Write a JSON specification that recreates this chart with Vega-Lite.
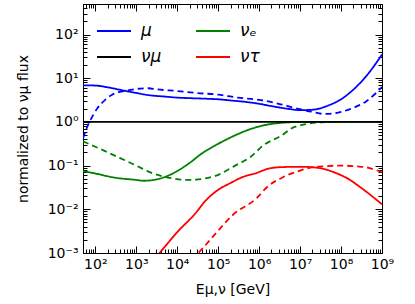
{
  "$schema": "https://vega.github.io/schema/vega-lite/v6.json",
  "width": 299,
  "height": 249,
  "autosize": {"type": "none"},
  "padding": {"left": 83, "top": 4, "right": 33, "bottom": 51},
  "background": "white",
  "config": {
    "font": "DejaVu Sans",
    "view": {"stroke": null},
    "axis": {
      "grid": false,
      "domainColor": "black",
      "domainWidth": 1,
      "tickColor": "black",
      "tickWidth": 1,
      "labelColor": "black",
      "labelFont": "DejaVu Sans",
      "labelFontSize": 14,
      "labelOverlap": false,
      "labelFlush": false,
      "labelBound": false,
      "titleFont": "DejaVu Sans",
      "titleFontSize": 14,
      "titleFontWeight": "normal",
      "titleColor": "black"
    }
  },
  "data": {
    "values": [
      {"E": 50, "v": 6.9, "s": "μ", "st": "solid"},
      {"E": 100, "v": 6.8, "s": "μ", "st": "solid"},
      {"E": 200, "v": 6.2, "s": "μ", "st": "solid"},
      {"E": 500, "v": 5.2, "s": "μ", "st": "solid"},
      {"E": 1000, "v": 4.6, "s": "μ", "st": "solid"},
      {"E": 2000, "v": 4.1, "s": "μ", "st": "solid"},
      {"E": 5000, "v": 3.8, "s": "μ", "st": "solid"},
      {"E": 10000, "v": 3.6, "s": "μ", "st": "solid"},
      {"E": 20000, "v": 3.5, "s": "μ", "st": "solid"},
      {"E": 50000, "v": 3.4, "s": "μ", "st": "solid"},
      {"E": 100000, "v": 3.3, "s": "μ", "st": "solid"},
      {"E": 200000, "v": 3.1, "s": "μ", "st": "solid"},
      {"E": 500000, "v": 2.85, "s": "μ", "st": "solid"},
      {"E": 1000000, "v": 2.6, "s": "μ", "st": "solid"},
      {"E": 2000000, "v": 2.3, "s": "μ", "st": "solid"},
      {"E": 5000000, "v": 2.0, "s": "μ", "st": "solid"},
      {"E": 10000000, "v": 1.86, "s": "μ", "st": "solid"},
      {"E": 20000000, "v": 1.9, "s": "μ", "st": "solid"},
      {"E": 50000000, "v": 2.4, "s": "μ", "st": "solid"},
      {"E": 100000000, "v": 3.3, "s": "μ", "st": "solid"},
      {"E": 200000000, "v": 5.5, "s": "μ", "st": "solid"},
      {"E": 500000000, "v": 14, "s": "μ", "st": "solid"},
      {"E": 1000000000, "v": 35, "s": "μ", "st": "solid"},

      {"E": 50, "v": 0.42, "s": "μ", "st": "dashed"},
      {"E": 58, "v": 0.63, "s": "μ", "st": "dashed"},
      {"E": 76, "v": 1.1, "s": "μ", "st": "dashed"},
      {"E": 110, "v": 2.0, "s": "μ", "st": "dashed"},
      {"E": 174, "v": 3.2, "s": "μ", "st": "dashed"},
      {"E": 257, "v": 4.2, "s": "μ", "st": "dashed"},
      {"E": 372, "v": 4.8, "s": "μ", "st": "dashed"},
      {"E": 600, "v": 5.2, "s": "μ", "st": "dashed"},
      {"E": 1000, "v": 5.7, "s": "μ", "st": "dashed"},
      {"E": 2000, "v": 5.9, "s": "μ", "st": "dashed"},
      {"E": 3000, "v": 5.6, "s": "μ", "st": "dashed"},
      {"E": 10000, "v": 5.1, "s": "μ", "st": "dashed"},
      {"E": 30000, "v": 4.6, "s": "μ", "st": "dashed"},
      {"E": 100000, "v": 4.2, "s": "μ", "st": "dashed"},
      {"E": 300000, "v": 3.6, "s": "μ", "st": "dashed"},
      {"E": 1000000, "v": 3.2, "s": "μ", "st": "dashed"},
      {"E": 3000000, "v": 2.6, "s": "μ", "st": "dashed"},
      {"E": 10000000, "v": 1.95, "s": "μ", "st": "dashed"},
      {"E": 20000000, "v": 1.7, "s": "μ", "st": "dashed"},
      {"E": 40000000, "v": 1.52, "s": "μ", "st": "dashed"},
      {"E": 100000000, "v": 1.7, "s": "μ", "st": "dashed"},
      {"E": 200000000, "v": 2.1, "s": "μ", "st": "dashed"},
      {"E": 400000000, "v": 2.9, "s": "μ", "st": "dashed"},
      {"E": 1000000000, "v": 6.3, "s": "μ", "st": "dashed"},

      {"E": 50, "v": 0.075, "s": "νₑ", "st": "solid"},
      {"E": 100, "v": 0.066, "s": "νₑ", "st": "solid"},
      {"E": 300, "v": 0.053, "s": "νₑ", "st": "solid"},
      {"E": 1000, "v": 0.047, "s": "νₑ", "st": "solid"},
      {"E": 1500, "v": 0.045, "s": "νₑ", "st": "solid"},
      {"E": 3000, "v": 0.048, "s": "νₑ", "st": "solid"},
      {"E": 5000, "v": 0.055, "s": "νₑ", "st": "solid"},
      {"E": 10000, "v": 0.075, "s": "νₑ", "st": "solid"},
      {"E": 20000, "v": 0.115, "s": "νₑ", "st": "solid"},
      {"E": 40000, "v": 0.19, "s": "νₑ", "st": "solid"},
      {"E": 85000, "v": 0.29, "s": "νₑ", "st": "solid"},
      {"E": 200000, "v": 0.44, "s": "νₑ", "st": "solid"},
      {"E": 600000, "v": 0.68, "s": "νₑ", "st": "solid"},
      {"E": 1500000, "v": 0.86, "s": "νₑ", "st": "solid"},
      {"E": 3900000, "v": 0.96, "s": "νₑ", "st": "solid"},
      {"E": 10000000, "v": 0.995, "s": "νₑ", "st": "solid"},
      {"E": 100000000, "v": 1.0, "s": "νₑ", "st": "solid"},
      {"E": 1000000000, "v": 1.0, "s": "νₑ", "st": "solid"},

      {"E": 50, "v": 0.36, "s": "νₑ", "st": "dashed"},
      {"E": 100, "v": 0.27, "s": "νₑ", "st": "dashed"},
      {"E": 340, "v": 0.16, "s": "νₑ", "st": "dashed"},
      {"E": 1000, "v": 0.1, "s": "νₑ", "st": "dashed"},
      {"E": 2200, "v": 0.07, "s": "νₑ", "st": "dashed"},
      {"E": 5600, "v": 0.054, "s": "νₑ", "st": "dashed"},
      {"E": 20000, "v": 0.047, "s": "νₑ", "st": "dashed"},
      {"E": 85000, "v": 0.058, "s": "νₑ", "st": "dashed"},
      {"E": 260000, "v": 0.1, "s": "νₑ", "st": "dashed"},
      {"E": 600000, "v": 0.155, "s": "νₑ", "st": "dashed"},
      {"E": 1260000, "v": 0.29, "s": "νₑ", "st": "dashed"},
      {"E": 3900000, "v": 0.52, "s": "νₑ", "st": "dashed"},
      {"E": 5800000, "v": 0.69, "s": "νₑ", "st": "dashed"},
      {"E": 15000000, "v": 0.9, "s": "νₑ", "st": "dashed"},
      {"E": 35000000, "v": 0.98, "s": "νₑ", "st": "dashed"},
      {"E": 100000000, "v": 1.0, "s": "νₑ", "st": "dashed"},
      {"E": 1000000000, "v": 1.0, "s": "νₑ", "st": "dashed"},

      {"E": 2000, "v": 0.00045, "s": "ντ", "st": "solid"},
      {"E": 3700, "v": 0.001, "s": "ντ", "st": "solid"},
      {"E": 5000, "v": 0.0014, "s": "ντ", "st": "solid"},
      {"E": 10000, "v": 0.003, "s": "ντ", "st": "solid"},
      {"E": 27500, "v": 0.008, "s": "ντ", "st": "solid"},
      {"E": 50000, "v": 0.016, "s": "ντ", "st": "solid"},
      {"E": 100000, "v": 0.028, "s": "ντ", "st": "solid"},
      {"E": 200000, "v": 0.04, "s": "ντ", "st": "solid"},
      {"E": 400000, "v": 0.055, "s": "ντ", "st": "solid"},
      {"E": 870000, "v": 0.068, "s": "ντ", "st": "solid"},
      {"E": 1600000, "v": 0.084, "s": "ντ", "st": "solid"},
      {"E": 3200000, "v": 0.092, "s": "ντ", "st": "solid"},
      {"E": 10000000, "v": 0.094, "s": "ντ", "st": "solid"},
      {"E": 25000000, "v": 0.09, "s": "ντ", "st": "solid"},
      {"E": 80000000, "v": 0.066, "s": "ντ", "st": "solid"},
      {"E": 160000000, "v": 0.048, "s": "ντ", "st": "solid"},
      {"E": 260000000, "v": 0.035, "s": "ντ", "st": "solid"},
      {"E": 500000000, "v": 0.022, "s": "ντ", "st": "solid"},
      {"E": 1000000000, "v": 0.013, "s": "ντ", "st": "solid"},

      {"E": 20000, "v": 0.0004, "s": "ντ", "st": "dashed"},
      {"E": 33000, "v": 0.001, "s": "ντ", "st": "dashed"},
      {"E": 44000, "v": 0.00135, "s": "ντ", "st": "dashed"},
      {"E": 93000, "v": 0.003, "s": "ντ", "st": "dashed"},
      {"E": 230000, "v": 0.0075, "s": "ντ", "st": "dashed"},
      {"E": 870000, "v": 0.018, "s": "ντ", "st": "dashed"},
      {"E": 1550000, "v": 0.032, "s": "ντ", "st": "dashed"},
      {"E": 3900000, "v": 0.055, "s": "ντ", "st": "dashed"},
      {"E": 10000000, "v": 0.077, "s": "ντ", "st": "dashed"},
      {"E": 17000000, "v": 0.089, "s": "ντ", "st": "dashed"},
      {"E": 40000000, "v": 0.097, "s": "ντ", "st": "dashed"},
      {"E": 100000000, "v": 0.1, "s": "ντ", "st": "dashed"},
      {"E": 250000000, "v": 0.096, "s": "ντ", "st": "dashed"},
      {"E": 500000000, "v": 0.088, "s": "ντ", "st": "dashed"},
      {"E": 1000000000, "v": 0.07, "s": "ντ", "st": "dashed"},

      {"E": 50, "v": 1, "s": "νμ", "st": "solid"},
      {"E": 1000000000, "v": 1, "s": "νμ", "st": "solid"}
    ]
  },
  "layer": [
    {
      "transform": [{"filter": "datum.s !== 'νμ'"}],
      "mark": {"type": "line", "strokeWidth": 1.8, "clip": true, "interpolate": "monotone"},
      "encoding": {
        "x": {
          "field": "E", "type": "quantitative",
          "scale": {"type": "log", "domain": [50, 1000000000], "nice": false},
          "axis": {
            "orient": "bottom",
            "values": [50,60,70,80,90,100,200,300,400,500,600,700,800,900,1000,2000,3000,4000,5000,6000,7000,8000,9000,10000,20000,30000,40000,50000,60000,70000,80000,90000,100000,200000,300000,400000,500000,600000,700000,800000,900000,1000000,2000000,3000000,4000000,5000000,6000000,7000000,8000000,9000000,10000000,20000000,30000000,40000000,50000000,60000000,70000000,80000000,90000000,100000000,200000000,300000000,400000000,500000000,600000000,700000000,800000000,900000000,1000000000],
            "labelExpr": "abs(log(datum.value)/LN10 - round(log(datum.value)/LN10)) < 0.001 ? '10' + (datum.value < 1 ? '⁻' : '') + ['⁰','¹','²','³','⁴','⁵','⁶','⁷','⁸','⁹'][abs(round(log(datum.value)/LN10))] : ''",
            "tickSize": {"condition": {"test": "abs(log(datum.value)/LN10 - round(log(datum.value)/LN10)) < 0.001", "value": -7}, "value": -4},
            "labelPadding": 11,
            "title": "Eμ,ν [GeV]",
            "titlePadding": 8
          }
        },
        "y": {
          "field": "v", "type": "quantitative",
          "scale": {"type": "log", "domain": [0.001, 500], "nice": false},
          "axis": {
            "orient": "left",
            "values": [0.001,0.002,0.003,0.004,0.005,0.006,0.007,0.008,0.009,0.01,0.02,0.03,0.04,0.05,0.06,0.07,0.08,0.09,0.1,0.2,0.3,0.4,0.5,0.6,0.7,0.8,0.9,1,2,3,4,5,6,7,8,9,10,20,30,40,50,60,70,80,90,100,200,300,400,500],
            "labelExpr": "abs(log(datum.value)/LN10 - round(log(datum.value)/LN10)) < 0.001 ? '10' + (datum.value < 1 ? '⁻' : '') + ['⁰','¹','²','³','⁴','⁵','⁶','⁷','⁸','⁹'][abs(round(log(datum.value)/LN10))] : ''",
            "tickSize": {"condition": {"test": "abs(log(datum.value)/LN10 - round(log(datum.value)/LN10)) < 0.001", "value": -7}, "value": -4},
            "labelPadding": 12,
            "title": "normalized to νμ flux",
            "titlePadding": 17
          }
        },
        "color": {
          "field": "s", "type": "nominal",
          "scale": {"domain": ["μ", "νμ", "νₑ", "ντ"], "range": ["#0000ff", "#000000", "#008000", "#ff0000"]},
          "legend": {
            "orient": "none", "legendX": 13, "legendY": 9, "columns": 2, "title": null,
            "symbolType": "stroke", "symbolSize": 1156, "symbolStrokeWidth": 2,
            "labelFont": "DejaVu Sans", "labelFontStyle": "italic", "labelFontSize": 17, "labelColor": "black",
            "labelOffset": 9, "columnPadding": 30, "rowPadding": -8, "padding": 0
          }
        },
        "strokeDash": {
          "field": "st", "type": "nominal",
          "scale": {"domain": ["solid", "dashed"], "range": [[1, 0], [6, 4]]},
          "legend": null
        },
        "detail": {"field": "st"}
      }
    },
    {
      "transform": [{"filter": "datum.s === 'νμ'"}],
      "mark": {"type": "line", "strokeWidth": 1.8, "clip": true},
      "encoding": {
        "x": {
          "field": "E", "type": "quantitative",
          "axis": {
            "orient": "top", "labels": false, "title": null,
            "values": [50,60,70,80,90,100,200,300,400,500,600,700,800,900,1000,2000,3000,4000,5000,6000,7000,8000,9000,10000,20000,30000,40000,50000,60000,70000,80000,90000,100000,200000,300000,400000,500000,600000,700000,800000,900000,1000000,2000000,3000000,4000000,5000000,6000000,7000000,8000000,9000000,10000000,20000000,30000000,40000000,50000000,60000000,70000000,80000000,90000000,100000000,200000000,300000000,400000000,500000000,600000000,700000000,800000000,900000000,1000000000],
            "tickSize": {"condition": {"test": "abs(log(datum.value)/LN10 - round(log(datum.value)/LN10)) < 0.001", "value": -7}, "value": -4}
          }
        },
        "y": {
          "field": "v", "type": "quantitative",
          "axis": {
            "orient": "right", "labels": false, "title": null,
            "values": [0.001,0.002,0.003,0.004,0.005,0.006,0.007,0.008,0.009,0.01,0.02,0.03,0.04,0.05,0.06,0.07,0.08,0.09,0.1,0.2,0.3,0.4,0.5,0.6,0.7,0.8,0.9,1,2,3,4,5,6,7,8,9,10,20,30,40,50,60,70,80,90,100,200,300,400,500],
            "tickSize": {"condition": {"test": "abs(log(datum.value)/LN10 - round(log(datum.value)/LN10)) < 0.001", "value": -7}, "value": -4}
          }
        },
        "color": {"field": "s", "type": "nominal"},
        "strokeDash": {"field": "st", "type": "nominal"}
      }
    }
  ],
  "resolve": {"axis": {"x": "independent", "y": "independent"}}
}
